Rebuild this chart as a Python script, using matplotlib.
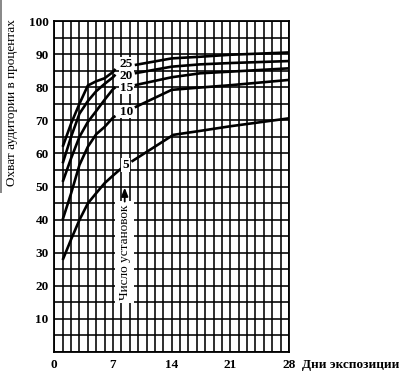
import numpy as np
import matplotlib
matplotlib.use("Agg")
import matplotlib.pyplot as plt
from matplotlib.patches import Rectangle

# ---- data ----
days_left = [1, 2, 3, 4, 5, 6, 7, 7.3]
days_right = [9.6, 14, 17.4, 21, 28]

left_25 = [62, 69, 75, 80.5, 81.8, 82.7, 84.6, 85.5]
right_25 = [86.7, 88.7, 89.2, 89.8, 90.5]
left_20 = [57, 65, 72, 75.8, 78.8, 81.0, 83.0, 83.8]
right_20 = [84.2, 86.2, 86.9, 87.3, 87.9]
left_15 = [51.4, 58.5, 65, 69.5, 72.8, 76.2, 79.4, 80.0]
right_15 = [80.6, 83.0, 84.2, 84.7, 85.7]
left_10 = [40, 47.9, 56.5, 62, 65.8, 68.0, 70.8, 71.3]
right_10 = [73.9, 79.2, 79.9, 80.6, 82.2]
days_left_5 = [1, 2, 3, 4, 5, 6, 7, 8]
left_5 = [27.8, 34.0, 39.9, 44.9, 48.0, 51.0, 53.3, 55.5]
days_right_5 = [9.2, 14.2, 17.4, 21, 28]
right_5 = [57.5, 65.6, 66.8, 68.2, 70.6]

series_labels = ["25", "20", "15", "10", "5"]
label_day = [8.6, 8.6, 8.6, 8.6, 8.5]
label_val = [87.0, 83.5, 79.9, 72.6, 56.5]

x_ticks = [0, 7, 14, 21, 28]
y_ticks = [10, 20, 30, 40, 50, 60, 70, 80, 90, 100]

serif = ["Liberation Serif", "DejaVu Serif"]

fig = plt.figure(figsize=(4.12, 3.83), dpi=100)
ax = fig.add_axes([54.3 / 412, 1 - 352 / 383, (289 - 54.3) / 412, (352 - 21) / 383])

ax.set_xlim(0, 28)
ax.set_ylim(0, 100)
ax.set_xticks(x_ticks)
ax.set_xticks(np.arange(0, 29, 1), minor=True)
ax.set_yticks(y_ticks)
ax.set_yticks(np.arange(0, 101, 5), minor=True)
ax.grid(which="both", color="black", linewidth=1.15)
ax.set_axisbelow(True)
ax.tick_params(which="both", length=0)
ax.tick_params(axis="x", pad=5)
ax.tick_params(axis="y", pad=4)
for lab in ax.get_xticklabels() + ax.get_yticklabels():
    lab.set_family(serif)
    lab.set_fontsize(9.5)
    lab.set_fontweight("bold")
for sp in ax.spines.values():
    sp.set_linewidth(1.3)

curves = [
    (days_left, left_25, days_right, right_25),
    (days_left, left_20, days_right, right_20),
    (days_left, left_15, days_right, right_15),
    (days_left, left_10, days_right, right_10),
    (days_left_5, left_5, days_right_5, right_5),
]
for dl, vl, dr, vr in curves:
    ax.plot(dl, vl, color="black", lw=1.9, solid_capstyle="butt", zorder=4)
    ax.plot(dr, vr, color="black", lw=1.9, solid_capstyle="butt", zorder=4)

for lab, d, v in zip(series_labels, label_day, label_val):
    ax.text(d, v, lab, ha="center", va="center", fontsize=9.5, family=serif,
            fontweight="bold", zorder=5,
            bbox=dict(facecolor="white", edgecolor="none", pad=0.6))

ax.text(8.4, 30.2, "Число установок", rotation=90, ha="center", va="center",
        fontsize=9.5, family=serif, zorder=5,
        bbox=dict(facecolor="white", edgecolor="none", pad=2.5))
ax.annotate("", xy=(8.4, 50.5), xytext=(8.4, 44.6),
            arrowprops=dict(arrowstyle="-|>,head_length=0.5,head_width=0.2",
                            color="black", lw=1.3), zorder=5)

fig.text(12 / 412, 1 - 103 / 383, "Охват аудитории в процентах", rotation=90,
         ha="center", va="center", fontsize=9.5, family=serif)
fig.text(399 / 412, 1 - 365 / 383, "Дни экспозиции", ha="right", va="center",
         fontsize=9.5, family=serif, fontweight="bold")

fig.patches.append(Rectangle((0, 1 - 193 / 383), 2 / 412, 193 / 383,
                             transform=fig.transFigure, facecolor="#8a8a8a",
                             edgecolor="none"))

fig.savefig("out.png", dpi=100)
